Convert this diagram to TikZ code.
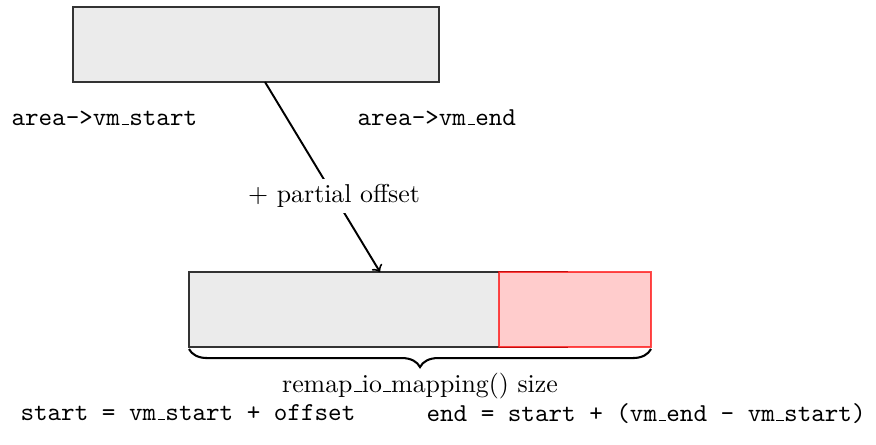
\documentclass[tikz,border=0pt]{standalone}
\usetikzlibrary{decorations.pathreplacing}
\newcommand\us{\leavevmode\kern.06em\vbox{\hrule width.3em}}
\begin{document}
\begin{tikzpicture}[x=0.3871pt,y=-0.3871pt,
  membox/.style={draw=black!80,fill=black!8,line width=0.5pt},
  hibox/.style={draw=red,draw opacity=0.7,fill=red!20,line width=0.6pt},
  tlabel/.style={font=\ttfamily,inner sep=0pt,anchor=base west},
  rlabel/.style={inner sep=0pt,anchor=base}]
\useasboundingbox (0,0) rectangle (876,444);
% top box
\draw[membox] (73,7) rectangle (439,82);
\coordinate (src) at (265,82);
% bottom boxes
\draw[membox] (189,272) rectangle (567,347);
\draw[hibox] (499,272) rectangle (651,347);
\coordinate (dst) at (380,272);
% connector
\draw[->,line width=0.75pt] (src) -- node[pos=0.6,fill=white,inner sep=2pt] (lbl) {+ partial offset} (dst);
% labels
\node[tlabel] (vs) at (11,125) {area->vm\us start};
\node[tlabel] (ve) at (357,125) {area->vm\us end};
% brace
\coordinate (bl) at (189,349);
\coordinate (br) at (651,349);
\draw[decorate,decoration={brace,mirror,amplitude=7pt},line width=0.8pt] (bl) -- (br);
\node[rlabel] (sz) at (420,392) {remap\us io\us mapping() size};
\node[tlabel] (st) at (20,420) {start = vm\us start + offset};
\node[tlabel] (en) at (426,421) {end = start + (vm\us end - vm\us start)};
\end{tikzpicture}
\end{document}
